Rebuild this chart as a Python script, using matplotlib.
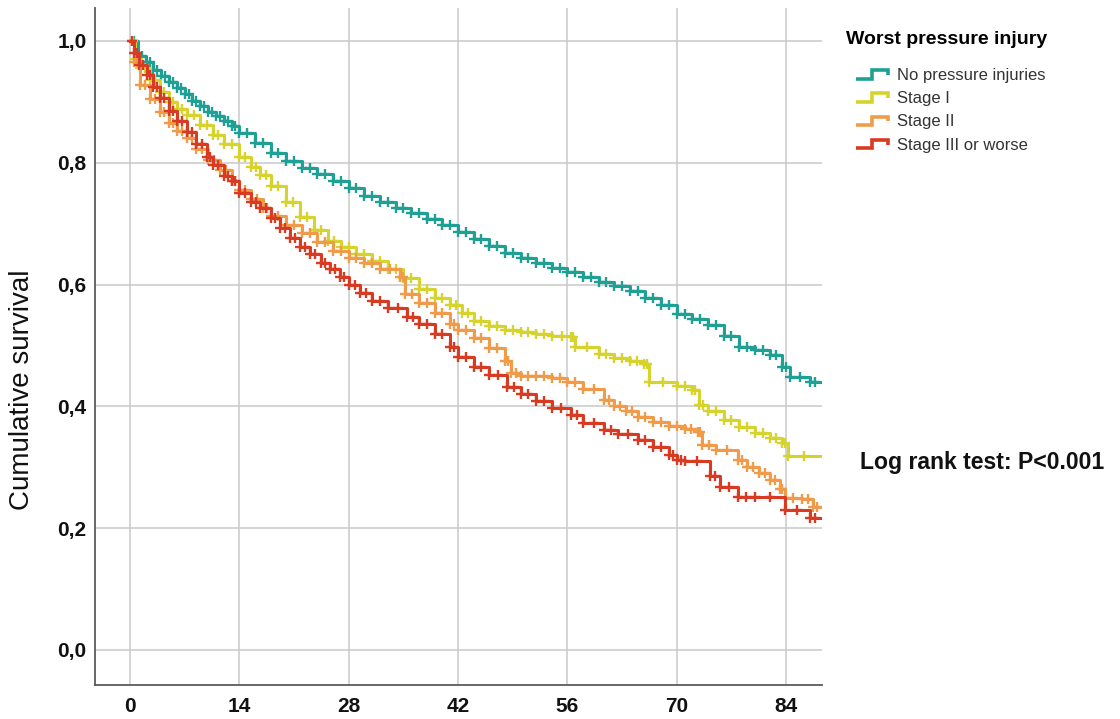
import numpy as np
import matplotlib
matplotlib.use("Agg")
import matplotlib.pyplot as plt
from matplotlib.lines import Line2D
from matplotlib.legend_handler import HandlerBase

# Kaplan-Meier estimates by worst pressure injury (time in days)
t_none = [0, 1, 2, 3, 4, 5, 6, 7, 8, 9, 10, 11, 12, 13, 14, 16, 18, 20, 22, 24, 26, 28,
          30, 32, 34, 36, 38, 40, 42, 44, 46, 48, 50, 52, 54, 56, 58, 60, 62, 64, 66, 68,
          70, 72, 74, 76, 78, 80, 82, 83.5, 84.5, 87, 88.5]
s_none = [1.0, 0.975, 0.965, 0.952, 0.942, 0.932, 0.922, 0.912, 0.902, 0.893, 0.884, 0.876,
          0.868, 0.860, 0.848, 0.832, 0.816, 0.803, 0.792, 0.782, 0.770, 0.758, 0.746,
          0.735, 0.725, 0.717, 0.708, 0.697, 0.686, 0.675, 0.663, 0.652, 0.643, 0.635,
          0.627, 0.620, 0.612, 0.604, 0.598, 0.590, 0.578, 0.566, 0.552, 0.543, 0.533,
          0.515, 0.498, 0.492, 0.485, 0.465, 0.448, 0.440, 0.440]

t_st1 = [0, 0.7, 1.3, 2.5, 3.8, 5, 6, 7.3, 9, 10.6, 12, 14, 15.5, 16.7, 18, 20, 21.8, 23.5,
         25.3, 27, 29, 31, 33, 35, 37, 39, 41, 42.5, 44, 46, 48, 50, 52, 54, 56.5, 57, 60,
         62, 64, 65.8, 66.5, 70, 72, 72.8, 74, 76, 78, 80, 82, 83.5, 84.2, 88.5]
s_st1 = [1.0, 0.970, 0.956, 0.935, 0.916, 0.900, 0.888, 0.878, 0.862, 0.846, 0.830, 0.810,
         0.793, 0.780, 0.762, 0.735, 0.711, 0.690, 0.672, 0.662, 0.650, 0.638, 0.625,
         0.610, 0.592, 0.578, 0.566, 0.553, 0.540, 0.532, 0.525, 0.522, 0.518, 0.515,
         0.514, 0.498, 0.486, 0.480, 0.475, 0.470, 0.440, 0.433, 0.427, 0.402, 0.392,
         0.378, 0.366, 0.356, 0.348, 0.340, 0.318, 0.318]

t_st2 = [0, 0.5, 1.3, 2.5, 3.8, 5, 6, 7.3, 8.5, 10, 11.5, 13, 14, 15.5, 17, 18, 20, 22, 24,
         26, 28, 30, 32, 34.6, 35.2, 37, 39, 41, 42, 44, 46, 48, 48.8, 50, 52, 54, 56, 58,
         60.7, 62, 63.5, 65, 67, 69, 71, 72.7, 73.2, 75, 77.8, 79, 80.5, 82, 83.2, 83.8,
         86, 87.5, 88.5]
s_st2 = [1.0, 0.965, 0.928, 0.905, 0.883, 0.866, 0.852, 0.840, 0.823, 0.805, 0.788, 0.770,
         0.755, 0.740, 0.725, 0.712, 0.697, 0.684, 0.670, 0.655, 0.643, 0.635, 0.625,
         0.612, 0.585, 0.570, 0.553, 0.535, 0.525, 0.512, 0.495, 0.475, 0.455, 0.450,
         0.450, 0.447, 0.440, 0.428, 0.410, 0.400, 0.392, 0.383, 0.375, 0.367, 0.362,
         0.358, 0.336, 0.328, 0.312, 0.300, 0.290, 0.279, 0.265, 0.250, 0.248, 0.235,
         0.235]

t_st3 = [0, 0.5, 1.2, 2.2, 3, 3.8, 5, 6, 7.3, 8.5, 9.9, 10.6, 12, 13, 14, 15.5, 16.7, 18,
         19.2, 20.5, 21.8, 23, 24.4, 25.6, 26.9, 28, 29.5, 31, 33, 35.5, 37, 39, 41, 42,
         44, 46, 48.3, 50, 52, 54, 56.4, 58, 60.7, 62.5, 65, 67, 69, 70, 71, 74.2, 75.5,
         77.8, 80, 83.8, 87, 88.5]
s_st3 = [1.0, 0.980, 0.960, 0.944, 0.925, 0.906, 0.885, 0.868, 0.850, 0.830, 0.810, 0.796,
         0.778, 0.770, 0.750, 0.735, 0.725, 0.710, 0.692, 0.676, 0.662, 0.650, 0.636,
         0.625, 0.612, 0.600, 0.586, 0.573, 0.562, 0.547, 0.535, 0.518, 0.498, 0.481,
         0.465, 0.452, 0.432, 0.420, 0.408, 0.398, 0.386, 0.372, 0.361, 0.355, 0.345,
         0.333, 0.320, 0.312, 0.310, 0.285, 0.268, 0.251, 0.251, 0.230, 0.217, 0.217]

groups = ["No pressure injuries", "Stage I", "Stage II", "Stage III or worse"]
colors = ["#1ea095", "#d6d42c", "#ef9b4a", "#d83b22"]
series = [(t_none, s_none), (t_st1, s_st1), (t_st2, s_st2), (t_st3, s_st3)]

x_ticks = [0, 14, 28, 42, 56, 70, 84]
y_ticks = [0.0, 0.2, 0.4, 0.6, 0.8, 1.0]
y_ticklabels = ["0,0", "0,2", "0,4", "0,6", "0,8", "1,0"]

FONT = "Liberation Sans"


class StepHandler(HandlerBase):
    """Legend key drawn as a small survival step."""

    def create_artists(self, legend, orig_handle, xdescent, ydescent,
                       width, height, fontsize, trans):
        xs = np.array([0.24, 0.61, 0.61, 0.98, 0.98]) * width - xdescent
        ys = np.array([0.2, 0.2, 0.8, 0.8, 0.45]) * height - ydescent
        key = Line2D(xs, ys, color=orig_handle.get_color(), lw=2.6,
                     solid_joinstyle="miter", solid_capstyle="butt")
        key.set_transform(trans)
        return [key]


fig = plt.figure(figsize=(11.2, 7.19), dpi=100)
ax = fig.add_axes([95 / 1120, 34 / 719, 727 / 1120, 677 / 719])

handles = []
for (t, s), c, name in zip(series, colors, groups):
    t = np.asarray(t)
    s = np.asarray(s)
    line, = ax.step(t, s, where="post", color=c, lw=2.2, label=name)
    handles.append(line)
    # censored observations
    tm = np.concatenate([t[1:-1], (t[:-1] + t[1:]) / 2])
    sm = np.concatenate([s[1:-1], s[:-1]])
    ax.plot(tm, sm, ls="none", marker="+", ms=7.5, mew=1.7, color=c)

ax.set_xlim(-4.48, 88.6)
ax.set_ylim(-0.0575, 1.054)
ax.set_xticks(x_ticks)
ax.set_xticklabels([str(v) for v in x_ticks])
ax.set_yticks(y_ticks)
ax.set_yticklabels(y_ticklabels)
ax.grid(True, color="#c9c9c9", lw=1.1)
ax.set_axisbelow(True)
for side in ("top", "right"):
    ax.spines[side].set_visible(False)
for side in ("left", "bottom"):
    ax.spines[side].set_color("#5a5a5a")
    ax.spines[side].set_linewidth(1.3)
ax.tick_params(length=0, labelsize=15)
ax.tick_params(axis="x", pad=9)
ax.tick_params(axis="y", pad=6)
for lab in ax.get_xticklabels() + ax.get_yticklabels():
    lab.set_fontweight("bold")
    lab.set_family(FONT)
    lab.set_color("#111111")

ax.set_ylabel("Cumulative survival", fontsize=20, family=FONT, color="#111111")
ax.yaxis.set_label_coords(-0.082, 0.436)

leg = ax.legend(handles, groups, handler_map={Line2D: StepHandler()},
                loc="upper left", bbox_to_anchor=(846 / 1120, 1 - 31 / 719),
                bbox_transform=fig.transFigure, frameon=False, alignment="left",
                title="Worst pressure injury",
                prop={"family": FONT, "size": 12},
                title_fontproperties={"family": FONT, "size": 14, "weight": "bold"},
                handlelength=2.6, handleheight=0.9, handletextpad=0.45,
                labelspacing=0.45, borderaxespad=0, borderpad=0)
leg._legend_box.sep = 14
for txt in leg.get_texts():
    txt.set_color("#333333")

fig.text(860 / 1120, 1 - 463 / 719, "Log rank test: P<0.001", family=FONT,
         fontsize=16.6, fontweight="bold", ha="left", va="center", color="#111111")

fig.savefig("out.png", dpi=100)
